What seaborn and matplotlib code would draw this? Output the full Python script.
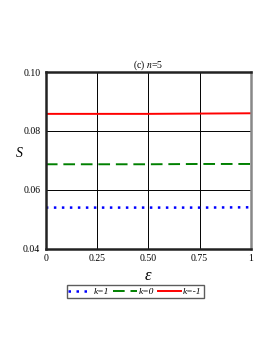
import numpy as np
import pandas as pd
import seaborn as sns
import matplotlib
matplotlib.use("Agg")
import matplotlib.pyplot as plt

# valores
eps = [0, 0.25, 0.5, 0.75, 1.0]
S_k1 = [0.0540, 0.0540, 0.0540, 0.0540, 0.0541]
S_k0 = [0.0687, 0.0687, 0.0687, 0.0688, 0.0688]
S_km1 = [0.0858, 0.0858, 0.0858, 0.0859, 0.0860]
rotulos = ["k=1", "k=0", "k=-1"]
cores = ["#0000ff", "#008000", "#ff0000"]
estilos = [(0, (1, 2.2)), (0, (6, 3)), "-"]

dados = pd.DataFrame({
    "eps": eps * 3,
    "S": S_k1 + S_k0 + S_km1,
    "k": [rotulos[0]] * 5 + [rotulos[1]] * 5 + [rotulos[2]] * 5,
})

plt.rcParams["font.family"] = ["Liberation Serif", "DejaVu Serif"]
plt.rcParams["mathtext.fontset"] = "stix"
fig = plt.figure(figsize=(2.73, 3.53), dpi=100)
ax = fig.add_axes([0.168, 0.295, 0.751, 0.501])

for rot, cor, ls in zip(rotulos, cores, estilos):
    sub = dados[dados["k"] == rot]
    sns.lineplot(data=sub, x="eps", y="S", ax=ax, color=cor, linestyle=ls,
                 linewidth=1.4 if rot != "k=1" else 1.8, label=rot)

ax.set_xlim(0, 1)
ax.set_ylim(0.04, 0.10)
ax.set_xticks([0, 0.25, 0.5, 0.75, 1])
ax.set_xticklabels(["0", "0.25", "0.50", "0.75", "1"])
ax.set_yticks([0.04, 0.06, 0.08, 0.10])
ax.set_yticklabels(["0.04", "0.06", "0.08", "0.10"])
ax.tick_params(labelsize=7, length=0, pad=4)
ax.grid(True, color="black", linewidth=0.7)
ax.set_axisbelow(True)
for s in ax.spines.values():
    s.set_linewidth(1.8)
    s.set_color("#222222")
ax.spines["right"].set_color("#888888")

ax.set_xlabel("ε", fontsize=12, style="italic", labelpad=3)
ax.set_ylabel("S", fontsize=10, style="italic", rotation=0, labelpad=10)
ax.yaxis.set_label_coords(-0.13, 0.5)
ax.set_title("(c) $n$=5", fontsize=7, pad=3)

leg = ax.legend(loc="upper center", bbox_to_anchor=(0.435, -0.18), ncol=3,
                frameon=True, fancybox=False, handlelength=2.5,
                columnspacing=0.4, handletextpad=0.2, borderpad=0.2,
                prop={"style": "italic", "size": 6.8})
leg.get_frame().set_edgecolor("#333333")
leg.get_frame().set_linewidth(1.0)

fig.savefig("out.png", dpi=100)
